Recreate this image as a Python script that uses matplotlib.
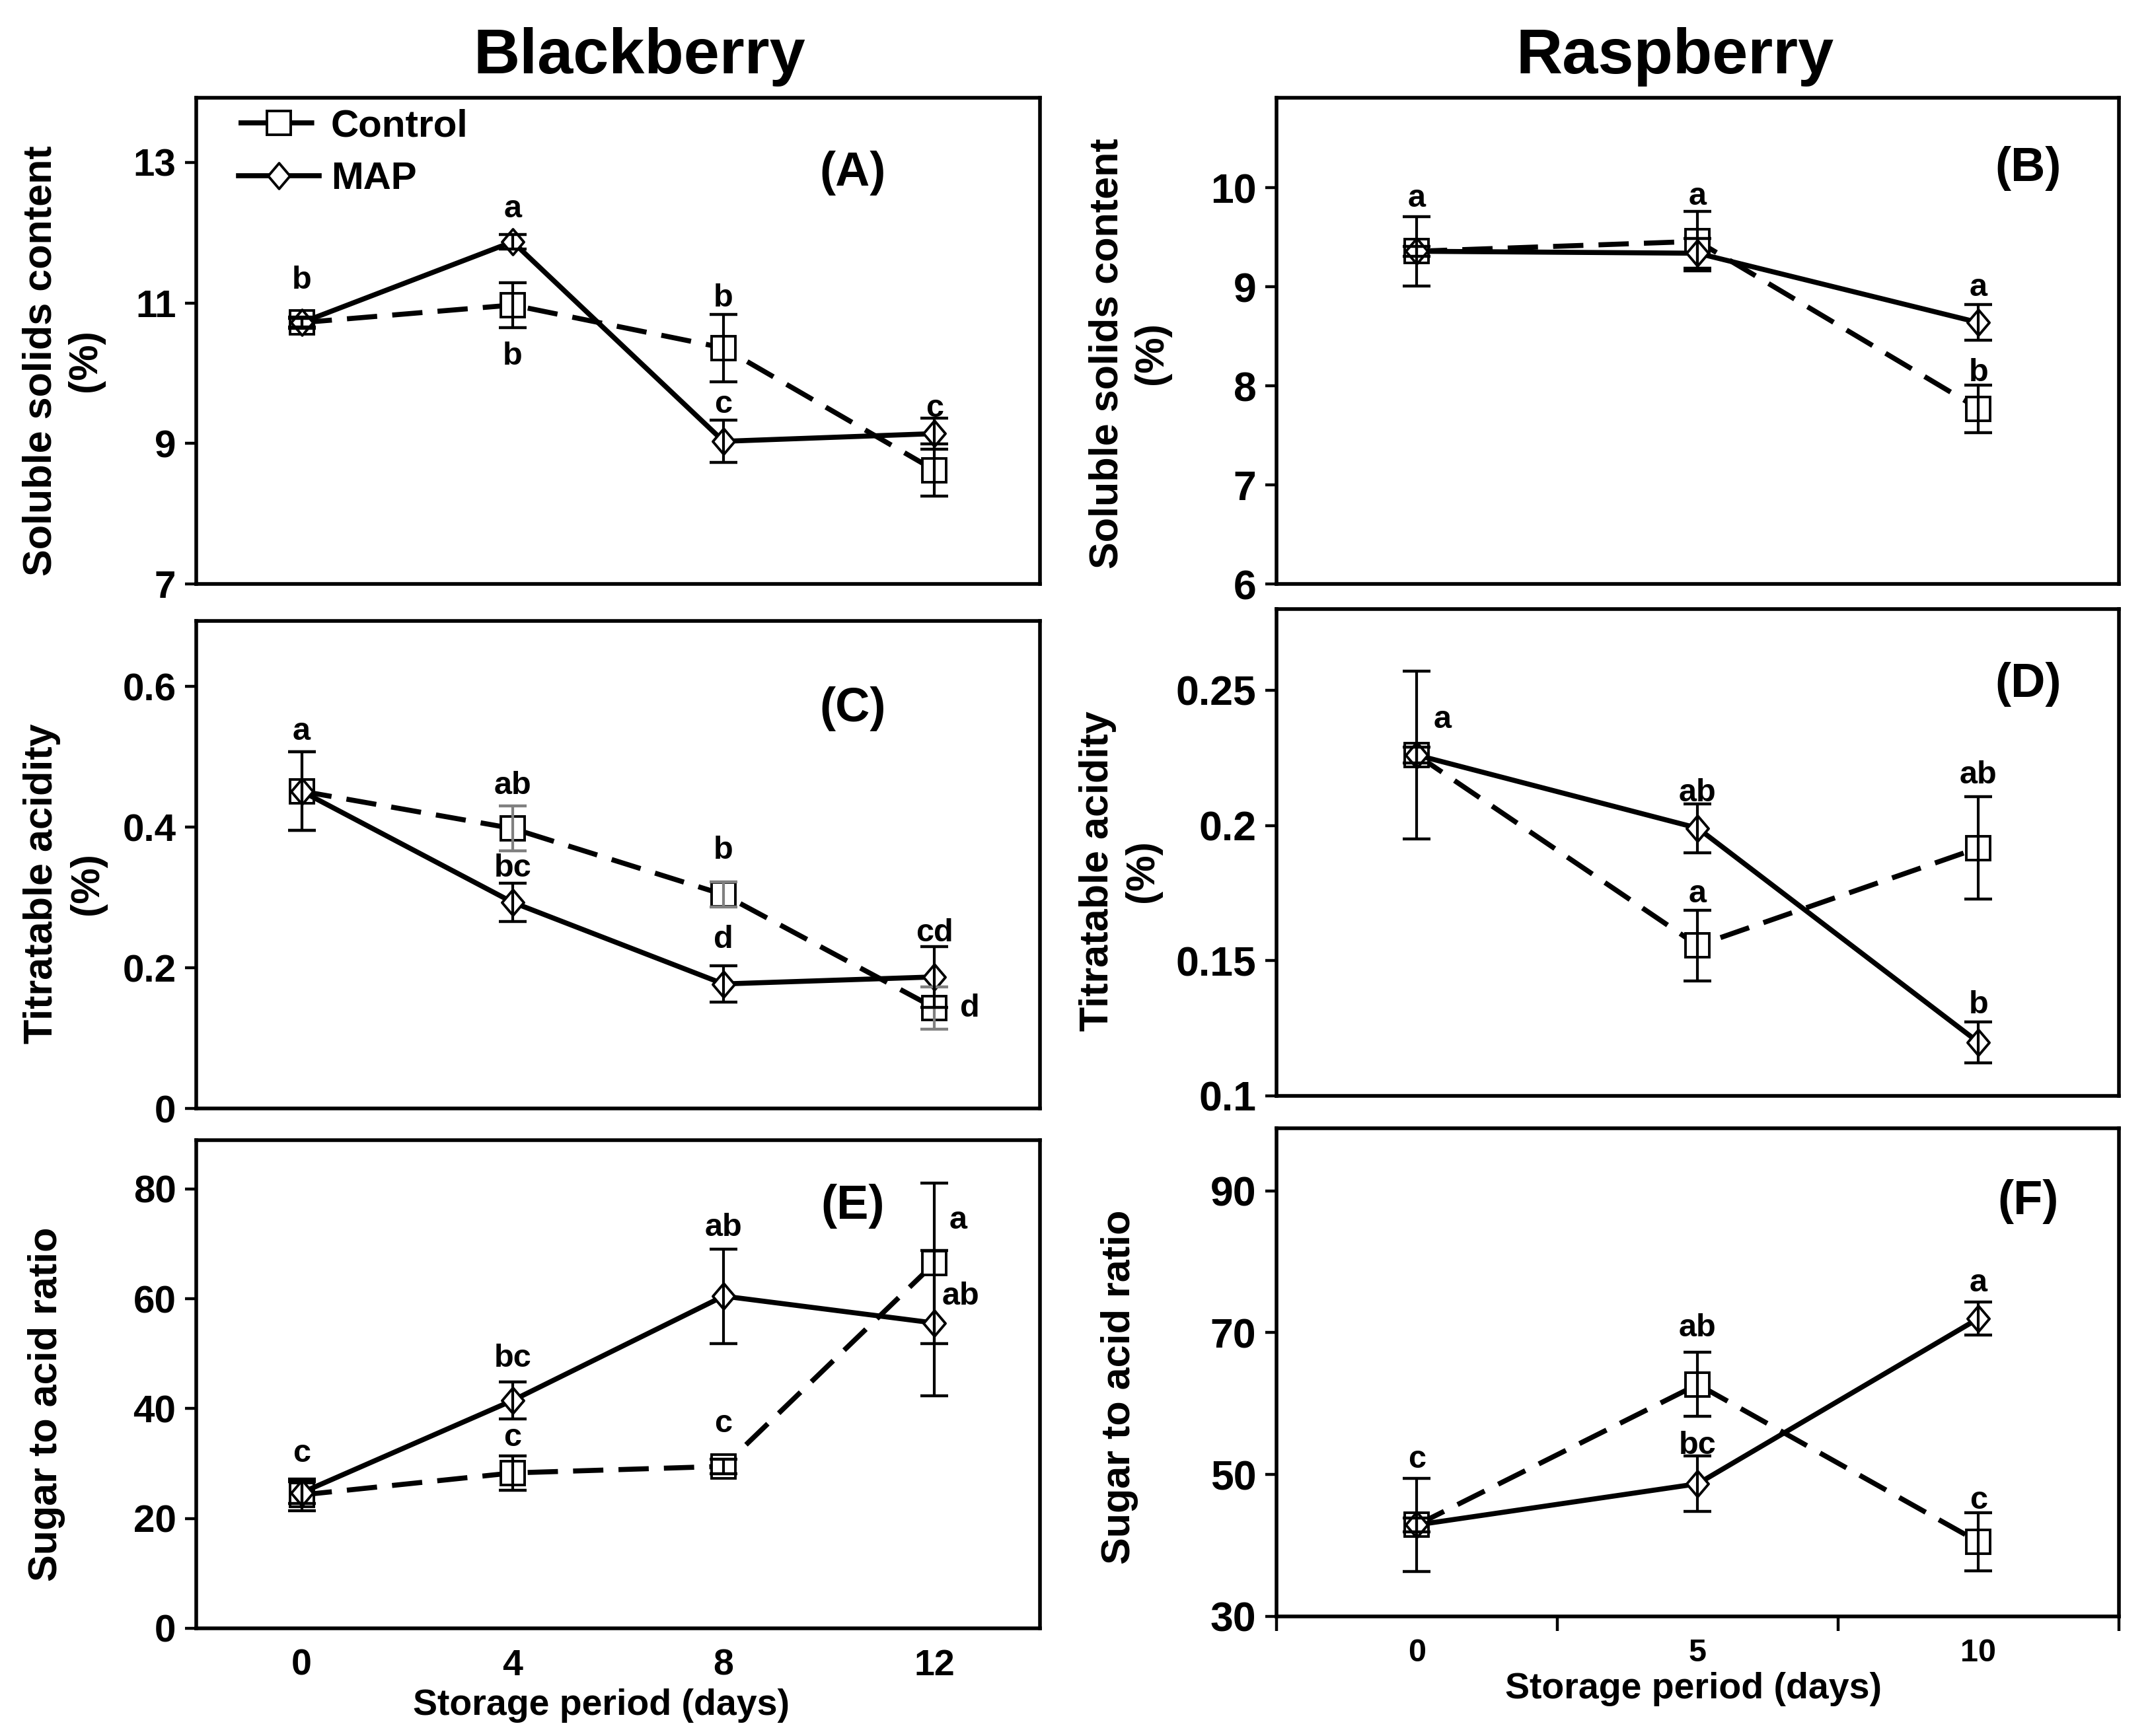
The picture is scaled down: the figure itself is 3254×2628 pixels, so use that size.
import matplotlib
matplotlib.use("Agg")
import matplotlib.pyplot as plt
from matplotlib.path import Path
from matplotlib.lines import Line2D

# storage days
days_bb = [0, 4, 8, 12]
days_rb = [0, 5, 10]

# soluble solids content (%)
bb_ssc_ctrl = [10.72, 10.97, 10.36, 8.62]
bb_ssc_ctrl_err = [0.08, 0.32, 0.48, 0.37]
bb_ssc_map = [10.72, 11.87, 9.03, 9.14]
bb_ssc_map_err = [0.06, 0.10, 0.30, 0.22]
rb_ssc_ctrl = [9.36, 9.46, 7.77]
rb_ssc_ctrl_err = [0.35, 0.30, 0.24]
rb_ssc_map = [9.36, 9.34, 8.64]
rb_ssc_map_err = [0.05, 0.15, 0.18]

# titratable acidity (%)
bb_ta_ctrl = [0.451, 0.398, 0.304, 0.143]
bb_ta_ctrl_err = [0.056, 0.032, 0.018, 0.030]
bb_ta_map = [0.451, 0.293, 0.177, 0.187]
bb_ta_map_err = [0.056, 0.027, 0.026, 0.043]
rb_ta_ctrl = [0.226, 0.1556, 0.1917]
rb_ta_ctrl_err = [0.031, 0.013, 0.019]
rb_ta_map = [0.226, 0.199, 0.1198]
rb_ta_map_err = [0.003, 0.009, 0.0075]

# sugar to acid ratio
bb_sar_ctrl = [24.3, 28.3, 29.5, 66.5]
bb_sar_ctrl_err = [2.9, 3.1, 1.3, 14.6]
bb_sar_map = [24.7, 41.5, 60.5, 55.6]
bb_sar_map_err = [2.0, 3.4, 8.6, 13.2]
rb_sar_ctrl = [42.9, 62.7, 40.5]
rb_sar_ctrl_err = [6.6, 4.5, 4.1]
rb_sar_map = [42.9, 48.7, 72.0]
rb_sar_map_err = [1.0, 3.9, 2.3]

# significance letters (x, y, text)
letters_A = [(0, 11.32, "b"), (4, 12.34, "a"), (4, 10.24, "b"), (8, 11.07, "b"), (8, 9.55, "c"), (12, 9.5, "c")]
letters_B = [(0, 9.89, "a"), (5, 9.91, "a"), (10, 8.99, "a"), (10, 8.13, "b")]
letters_C = [(0, 0.536, "a"), (4, 0.459, "ab"), (4, 0.341, "bc"), (8, 0.367, "b"), (8, 0.24, "d"),
             (12, 0.249, "cd"), (12.67, 0.142, "d")]
letters_D = [(0.46, 0.239, "a"), (5, 0.212, "ab"), (5, 0.1745, "a"), (10, 0.2186, "ab"), (10, 0.1336, "b")]
letters_E = [(0, 31.8, "c"), (4, 49.2, "bc"), (4, 34.7, "c"), (8, 73.0, "ab"), (8, 37.2, "c"),
             (12.45, 74.3, "a"), (12.5, 60.4, "ab")]
letters_F = [(0, 52.1, "c"), (5, 70.6, "ab"), (5, 54.1, "bc"), (10, 77.0, "a"), (10, 46.3, "c")]

W, H = 3255, 2628
plt.rcParams["font.family"] = ["Liberation Sans", "DejaVu Sans"]
plt.rcParams["font.weight"] = "bold"

fig = plt.figure(figsize=(W / 100, H / 100), dpi=100)


def px_axes(l, t, r, b):
    return fig.add_axes([l / W, 1 - b / H, (r - l) / W, (b - t) / H])


def ftext(x, y, s, **kw):
    fig.text(x / W, 1 - y / H, s, **kw)


diamond = Path([(0, 1), (0.85, 0), (0, -1), (-0.85, 0), (0, 1)],
               [Path.MOVETO, Path.LINETO, Path.LINETO, Path.LINETO, Path.CLOSEPOLY])
dash = (0, (6, 3))
LW = 5.5
SQ = 26
DM = 28


def draw(ax, x, ctrl, ctrl_err, mp, mp_err, ctrl_ecolor="black"):
    ax.plot(x, ctrl, linestyle=dash, color="black", lw=LW, marker="s", ms=SQ,
            mfc="white", mec="black", mew=2.8, zorder=3)
    ax.plot(x, mp, linestyle="-", color="black", lw=LW, marker=diamond, ms=DM,
            mfc="white", mec="black", mew=2.8, zorder=3)
    ax.errorbar(x, ctrl, yerr=ctrl_err, fmt="none", ecolor=ctrl_ecolor, elinewidth=3,
                capsize=15, capthick=3.2, zorder=4)
    ax.errorbar(x, mp, yerr=mp_err, fmt="none", ecolor="black", elinewidth=3,
                capsize=15, capthick=3.2, zorder=4)


def style(ax, xlim, ylim, yticks, tick_fs, panel, pxy):
    ax.set_xlim(*xlim)
    ax.set_ylim(*ylim)
    ax.set_yticks(yticks)
    ax.set_yticklabels(["%g" % v for v in yticks])
    for s in ax.spines.values():
        s.set_linewidth(4)
    ax.tick_params(axis="y", direction="out", length=12, width=3.2, labelsize=tick_fs, pad=10)
    ax.tick_params(axis="x", length=0, labelbottom=False)
    ax.text(pxy[0], pxy[1], panel, transform=ax.transAxes, ha="center", va="center",
            fontsize=52, fontweight="bold")


def put_letters(ax, letters):
    for x, y, t in letters:
        ax.text(x, y, t, ha="center", va="center", fontsize=35, fontweight="bold", zorder=5)


axA = px_axes(297, 148, 1574, 884)
axB = px_axes(1932, 148, 3207, 884)
axC = px_axes(297, 940, 1574, 1678)
axD = px_axes(1932, 922, 3207, 1659)
axE = px_axes(297, 1726, 1574, 2465)
axF = px_axes(1932, 1708, 3207, 2447)

draw(axA, days_bb, bb_ssc_ctrl, bb_ssc_ctrl_err, bb_ssc_map, bb_ssc_map_err)
draw(axB, days_rb, rb_ssc_ctrl, rb_ssc_ctrl_err, rb_ssc_map, rb_ssc_map_err)
draw(axC, days_bb, bb_ta_ctrl, bb_ta_ctrl_err, bb_ta_map, bb_ta_map_err, ctrl_ecolor="#808080")
draw(axD, days_rb, rb_ta_ctrl, rb_ta_ctrl_err, rb_ta_map, rb_ta_map_err)
draw(axE, days_bb, bb_sar_ctrl, bb_sar_ctrl_err, bb_sar_map, bb_sar_map_err)
draw(axF, days_rb, rb_sar_ctrl, rb_sar_ctrl_err, rb_sar_map, rb_sar_map_err)

style(axA, (-2, 14), (7, 13.92), [7, 9, 11, 13], 42, "(A)", (0.778, 0.845))
style(axB, (-2.5, 12.5), (6, 10.91), [6, 7, 8, 9, 10], 45, "(B)", (0.892, 0.855))
style(axC, (-2, 14), (0, 0.693), [0, 0.2, 0.4, 0.6], 42, "(C)", (0.778, 0.82))
style(axD, (-2.5, 12.5), (0.1, 0.28), [0.1, 0.15, 0.2, 0.25], 45, "(D)", (0.892, 0.845))
style(axE, (-2, 14), (0, 88.9), [0, 20, 40, 60, 80], 42, "(E)", (0.778, 0.865))
style(axF, (-2.5, 12.5), (30, 98.8), [30, 50, 70, 90], 45, "(F)", (0.892, 0.85))

put_letters(axA, letters_A)
put_letters(axB, letters_B)
put_letters(axC, letters_C)
put_letters(axD, letters_D)
put_letters(axE, letters_E)
put_letters(axF, letters_F)

# bottom x axes
axE.set_xticks(days_bb)
axE.set_xticklabels([str(d) for d in days_bb])
axE.tick_params(axis="x", length=0, labelbottom=True, labelsize=40, pad=22)

axF.set_xticks([-2.5, 2.5, 7.5, 12.5])
axF.set_xticks(days_rb, minor=True)
axF.set_xticklabels([str(d) for d in days_rb], minor=True)
axF.tick_params(axis="x", which="major", direction="out", length=16, width=3.2, labelbottom=False)
axF.tick_params(axis="x", which="minor", length=0, labelbottom=True, labelsize=35, pad=24)

# legend
h_ctrl = Line2D([], [], linestyle=dash, color="black", lw=LW, marker="s", ms=SQ,
                mfc="white", mec="black", mew=2.8)
h_map = Line2D([], [], linestyle="-", color="black", lw=LW, marker=diamond, ms=DM,
               mfc="white", mec="black", mew=2.8)
axA.legend([h_ctrl, h_map], ["Control", "MAP"], loc="upper left", bbox_to_anchor=(0.05, 0.978),
           frameon=False, fontsize=42, handlelength=2.1, handletextpad=0.3, labelspacing=0.45,
           borderpad=0, borderaxespad=0)

# titles and axis labels
ftext(968, 86, "Blackberry", ha="center", va="center", fontsize=70, fontweight="bold")
ftext(2535, 86, "Raspberry", ha="center", va="center", fontsize=70, fontweight="bold")

ylab = dict(rotation=90, ha="center", va="center", fontsize=44, fontweight="bold",
            linespacing=1.25, multialignment="center")
ftext(96, 546, "Soluble solids content\n(%)", **ylab)
ftext(1710, 535, "Soluble solids content\n(%)", **ylab)
ftext(98, 1338, "Titratable acidity\n(%)", **ylab)
ftext(1696, 1319, "Titratable acidity\n(%)", **ylab)
ftext(71, 2126, "Sugar to acid ratio", **ylab)
ftext(1695, 2100, "Sugar to acid ratio", **ylab)

ftext(910, 2582, "Storage period (days)", ha="center", va="center", fontsize=40, fontweight="bold")
ftext(2563, 2557, "Storage period (days)", ha="center", va="center", fontsize=40, fontweight="bold")

fig.savefig("out.png", dpi=100, facecolor="white")
